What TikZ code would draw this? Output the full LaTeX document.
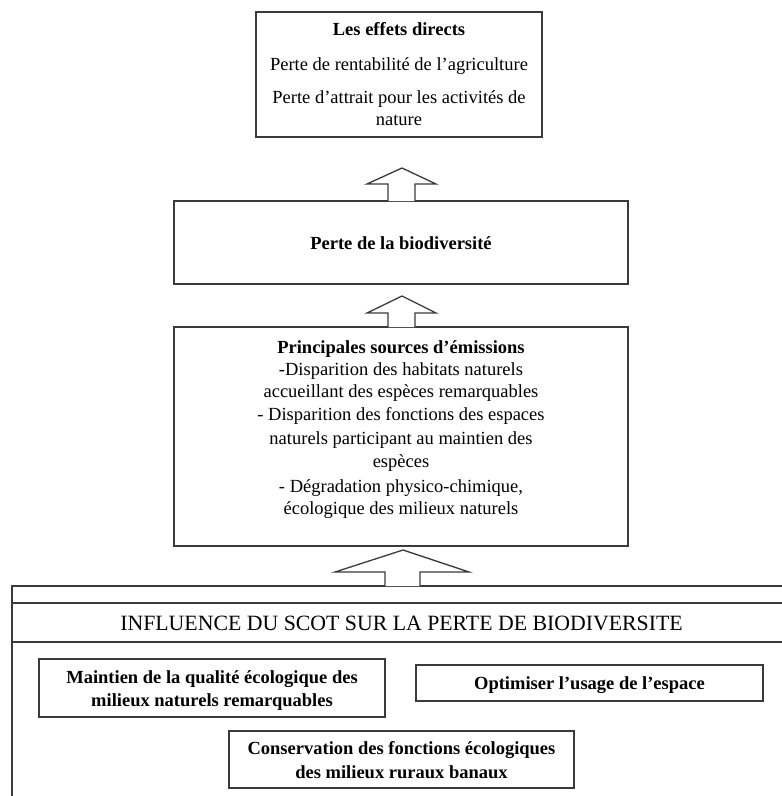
\documentclass[tikz,border=0pt]{standalone}
\usepackage{fontspec}
\setmainfont{Liberation Serif}
\definecolor{linegray}{HTML}{3A3A3A}
\begin{document}
\begin{tikzpicture}[x=1pt,y=-1pt,
  boxn/.style={draw=linegray, line width=1.3pt, inner sep=0pt, outer sep=0pt},
  txt/.style={font=\fontsize{18.5}{22}\selectfont, inner sep=0pt, anchor=base},
  btxt/.style={txt, font=\fontsize{18.5}{22}\selectfont\bfseries},
  bigtxt/.style={font=\fontsize{21.8}{26}\selectfont, inner sep=0pt, anchor=base},
  blockarrow/.style={draw=linegray, line width=1.3pt, fill=white, line join=miter}]
\useasboundingbox (0,0) rectangle (782,796);

% boxes
\node[boxn, minimum width=286pt, minimum height=125pt] (effets) at (399,74.5) {};
\node[boxn, minimum width=454pt, minimum height=83pt] (biodiv) at (401,242.5) {};
\node[boxn, minimum width=454pt, minimum height=219pt] (sources) at (401,436.5) {};

% outer SCOT box (extends beyond the page)
\coordinate (otl) at (12,586);
\coordinate (otr) at (800,586);
\coordinate (obl) at (12,810);
\draw[draw=linegray, line width=1.3pt] (otr) -- (otl) -- (obl);
\coordinate (l1a) at (12,603);
\coordinate (l1b) at (800,603);
\coordinate (l2a) at (12,642);
\coordinate (l2b) at (800,642);
\draw[draw=linegray, line width=1.3pt] (l1a) -- (l1b);
\draw[draw=linegray, line width=1.3pt] (l2a) -- (l2b);

\node[boxn, minimum width=346pt, minimum height=58pt] (maintien) at (212,688) {};
\node[boxn, minimum width=347pt, minimum height=36pt] (optim) at (589.5,683) {};
\node[boxn, minimum width=345pt, minimum height=57pt] (conserv) at (401.5,759.5) {};

% block arrows
\draw[blockarrow] (388,201) -- (388,184) -- (367,184) -- (402,168) -- (436,184) -- (415,184) -- (415,201);
\draw[blockarrow] (388,327) -- (388,313) -- (367,313) -- (402,296) -- (436,313) -- (415,313) -- (415,327);
\draw[blockarrow] (385,586) -- (385,572) -- (335,572) -- (403,550) -- (469,572) -- (420,572) -- (420,586);

% texts
\node[btxt] (t1) at (399,35) {Les effets directs};
\node[txt] (t2) at (399,70) {Perte de rentabilité de l’agriculture};
\node[txt] (t3) at (399,103) {Perte d’attrait pour les activités de};
\node[txt] (t4) at (399,125) {nature};

\node[btxt] (t5) at (401,249) {Perte de la biodiversité};

\node[btxt] (s0) at (401,353) {Principales sources d’émissions};
\node[txt] (s1) at (401,375) {-Disparition des habitats naturels};
\node[txt] (s2) at (401,397) {accueillant des espèces remarquables};
\node[txt] (s3) at (401,420) {- Disparition des fonctions des espaces};
\node[txt] (s4) at (401,444) {naturels participant au maintien des};
\node[txt] (s5) at (401,467) {espèces};
\node[txt] (s6) at (401,492) {- Dégradation physico-chimique,};
\node[txt] (s7) at (401,514) {écologique des milieux naturels};

\node[bigtxt] (infl) at (401.5,630) {INFLUENCE DU SCOT SUR LA PERTE DE BIODIVERSITE};

\node[btxt] (m1) at (212,683) {Maintien de la qualité écologique des};
\node[btxt] (m2) at (212,706) {milieux naturels remarquables};
\node[btxt] (o1) at (589.5,689) {Optimiser l’usage de l’espace};
\node[btxt] (c1) at (401.5,754) {Conservation des fonctions écologiques};
\node[btxt] (c2) at (401.5,778) {des milieux ruraux banaux};
\end{tikzpicture}
\end{document}
